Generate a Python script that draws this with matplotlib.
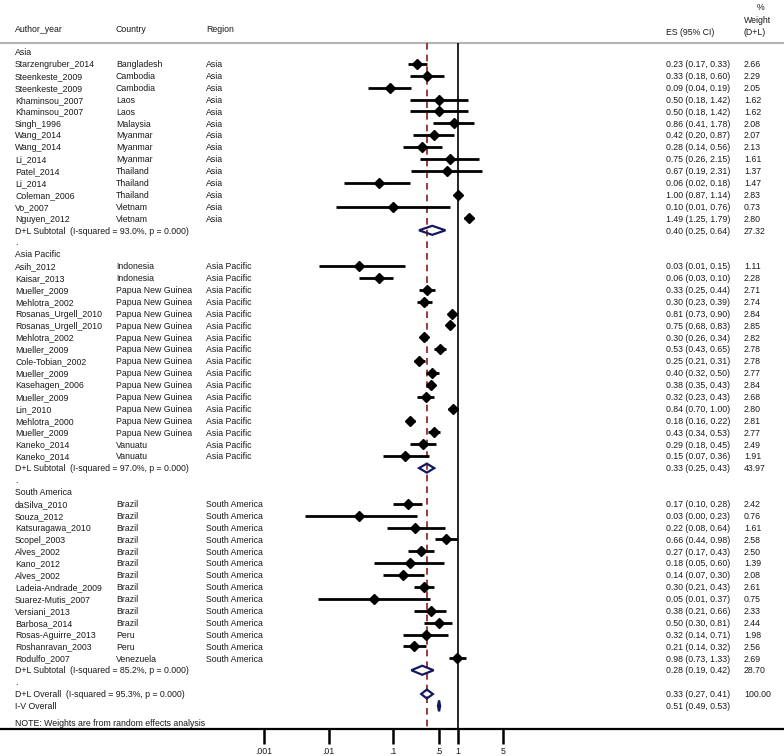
import matplotlib.pyplot as plt
from matplotlib.patches import Polygon

plt.rcParams['font.family'] = ['Liberation Sans', 'DejaVu Sans']

# study level data
authors = ["Starzengruber_2014", "Steenkeste_2009", "Steenkeste_2009", "Khaminsou_2007", "Khaminsou_2007",
           "Singh_1996", "Wang_2014", "Wang_2014", "Li_2014", "Patel_2014", "Li_2014", "Coleman_2006",
           "Vo_2007", "Nguyen_2012",
           "Asih_2012", "Kaisar_2013", "Mueller_2009", "Mehlotra_2002", "Rosanas_Urgell_2010",
           "Rosanas_Urgell_2010", "Mehlotra_2002", "Mueller_2009", "Cole-Tobian_2002", "Mueller_2009",
           "Kasehagen_2006", "Mueller_2009", "Lin_2010", "Mehlotra_2000", "Mueller_2009", "Kaneko_2014",
           "Kaneko_2014",
           "daSilva_2010", "Souza_2012", "Katsuragawa_2010", "Scopel_2003", "Alves_2002", "Kano_2012",
           "Alves_2002", "Ladeia-Andrade_2009", "Suarez-Mutis_2007", "Versiani_2013", "Barbosa_2014",
           "Rosas-Aguirre_2013", "Roshanravan_2003", "Rodulfo_2007"]
countries = ["Bangladesh", "Cambodia", "Cambodia", "Laos", "Laos", "Malaysia", "Myanmar", "Myanmar",
             "Myanmar", "Thailand", "Thailand", "Thailand", "Vietnam", "Vietnam",
             "Indonesia", "Indonesia"] + ["Papua New Guinea"] * 13 + ["Vanuatu", "Vanuatu"] + \
            ["Brazil"] * 11 + ["Peru", "Peru", "Venezuela"]
regions = ["Asia"] * 14 + ["Asia Pacific"] * 17 + ["South America"] * 14
es = [0.23, 0.33, 0.09, 0.50, 0.50, 0.86, 0.42, 0.28, 0.75, 0.67, 0.06, 1.00, 0.10, 1.49,
      0.03, 0.06, 0.33, 0.30, 0.81, 0.75, 0.30, 0.53, 0.25, 0.40, 0.38, 0.32, 0.84, 0.18, 0.43, 0.29, 0.15,
      0.17, 0.03, 0.22, 0.66, 0.27, 0.18, 0.14, 0.30, 0.05, 0.38, 0.50, 0.32, 0.21, 0.98]
lo = [0.17, 0.18, 0.04, 0.18, 0.18, 0.41, 0.20, 0.14, 0.26, 0.19, 0.0176, 0.87, 0.0128, 1.25,
      0.007, 0.03, 0.25, 0.23, 0.73, 0.68, 0.26, 0.43, 0.21, 0.32, 0.35, 0.23, 0.70, 0.16, 0.34, 0.18, 0.07,
      0.10, 0.0043, 0.08, 0.44, 0.17, 0.05, 0.07, 0.21, 0.0069, 0.21, 0.30, 0.14, 0.14, 0.73]
hi = [0.33, 0.60, 0.19, 1.42, 1.42, 1.78, 0.87, 0.56, 2.15, 2.31, 0.18, 1.14, 0.76, 1.79,
      0.15, 0.10, 0.44, 0.39, 0.90, 0.83, 0.34, 0.65, 0.31, 0.50, 0.43, 0.43, 1.00, 0.22, 0.53, 0.45, 0.36,
      0.28, 0.23, 0.64, 0.98, 0.43, 0.60, 0.30, 0.43, 0.37, 0.66, 0.81, 0.71, 0.32, 1.33]
weights = [2.66, 2.29, 2.05, 1.62, 1.62, 2.08, 2.07, 2.13, 1.61, 1.37, 1.47, 2.83, 0.73, 2.80,
           1.11, 2.28, 2.71, 2.74, 2.84, 2.85, 2.82, 2.78, 2.78, 2.77, 2.84, 2.68, 2.80, 2.81, 2.77, 2.49, 1.91,
           2.42, 0.76, 1.61, 2.58, 2.50, 1.39, 2.08, 2.61, 0.75, 2.33, 2.44, 1.98, 2.56, 2.69]

# subgroup and pooled results
groups = ["Asia", "Asia Pacific", "South America"]
sub_es = [0.40, 0.33, 0.28]
sub_lo = [0.25, 0.25, 0.19]
sub_hi = [0.64, 0.43, 0.42]
sub_w = [27.32, 43.97, 28.70]
sub_i2 = [93.0, 97.0, 85.2]
overall_es, overall_lo, overall_hi, overall_i2 = 0.33, 0.27, 0.41, 95.3
iv_es, iv_lo, iv_hi = 0.51, 0.49, 0.53

tick_vals = [0.001, 0.01, 0.1, 0.5, 1, 5]
tick_labels = [".001", ".01", ".1", ".5", "1", "5"]

W, H = 784, 756
fig = plt.figure(figsize=(W / 100, H / 100), dpi=100)
ax = fig.add_axes([0, 27 / H, 1, 729 / H])
ax.set_xscale("log")
ax.set_xlim(10 ** -7.079, 10 ** 5.039)
bottom = 56.94
ax.set_ylim(bottom, -4.37)

tr = ax.get_yaxis_transform()
fs = 6.3
tc = "#1a1a1a"
navy = "#14195e"


def col(px):
    return px / W


def txt(px, row, s):
    # baseline alignment keeps every column on the same line
    ax.text(col(px), row + 0.27, s, transform=tr, fontsize=fs, color=tc, va="baseline", ha="left")


def diamond(e, l, h, row, half=0.38, fill=False):
    p = Polygon([(l, row), (e, row - half), (h, row), (e, row + half)], closed=True,
                facecolor=navy if fill else "none", edgecolor=navy, lw=1.6, zorder=4)
    ax.add_patch(p)


# headers
txt(15, -1.93, "Author_year")
txt(116, -1.93, "Country")
txt(206, -1.93, "Region")
txt(666, -1.68, "ES (95% CI)")
txt(757, -3.78, "%")
txt(744, -2.69, "Weight")
txt(744, -1.68, "(D+L)")
ax.axhline(-0.76, color="#b4b4b4", lw=1.5)

# reference lines
ax.vlines(1, -0.76, bottom, color="black", lw=1.2, zorder=2)
ax.vlines(overall_es, -0.76, bottom, color="#8b1a1a", lw=1.2, linestyles=(0, (4, 3)), zorder=2)

row = 0
for g, ge, gl, gh, gw, gi in zip(groups, sub_es, sub_lo, sub_hi, sub_w, sub_i2):
    txt(15, row, g)
    row += 1
    for i in range(len(authors)):
        if regions[i] != g:
            continue
        txt(15, row, authors[i])
        txt(116, row, countries[i])
        txt(206, row, regions[i])
        txt(666, row, f"{es[i]:.2f} ({lo[i]:.2f}, {hi[i]:.2f})")
        txt(744, row, f"{weights[i]:.2f}")
        ax.plot([lo[i], hi[i]], [row, row], color="black", lw=2, solid_capstyle="butt", zorder=3)
        ax.plot(es[i], row, marker="D", color="black", ms=4.6, zorder=5)
        row += 1
    txt(15, row, f"D+L Subtotal  (I-squared = {gi:.1f}%, p = 0.000)")
    txt(666, row, f"{ge:.2f} ({gl:.2f}, {gh:.2f})")
    txt(744, row, f"{gw:.2f}")
    diamond(ge, gl, gh, row)
    row += 1
    txt(15, row, ".")
    row += 1

txt(15, row, f"D+L Overall  (I-squared = {overall_i2:.1f}%, p = 0.000)")
txt(666, row, f"{overall_es:.2f} ({overall_lo:.2f}, {overall_hi:.2f})")
txt(744, row, "100.00")
diamond(overall_es, overall_lo, overall_hi, row)
row += 1
txt(15, row, "I-V Overall")
txt(666, row, f"{iv_es:.2f} ({iv_lo:.2f}, {iv_hi:.2f})")
diamond(iv_es, iv_lo, iv_hi, row, half=0.45, fill=True)
txt(15, row + 1.43, "NOTE: Weights are from random effects analysis")

for s in ["left", "right", "top"]:
    ax.spines[s].set_visible(False)
ax.spines["bottom"].set_linewidth(1.6)
ax.set_yticks([])
ax.set_xticks(tick_vals)
ax.set_xticklabels(tick_labels)
ax.minorticks_off()
ax.tick_params(axis="x", length=11, width=1.8, pad=2, labelsize=fs, labelcolor=tc)

fig.savefig("out.png", dpi=100)
